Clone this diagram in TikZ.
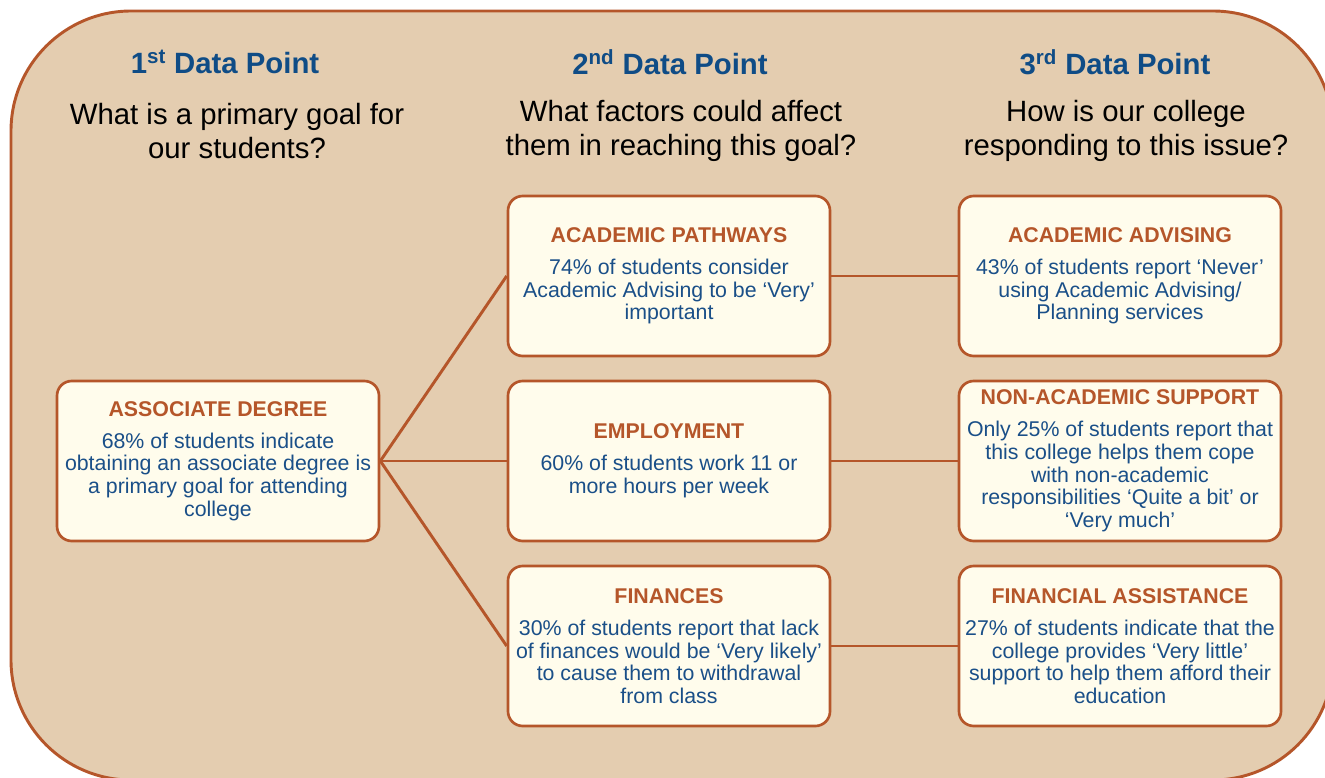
\documentclass[tikz,border=0pt]{standalone}
\usepackage{fontspec}
\setmainfont{Liberation Sans}
\definecolor{sienna}{HTML}{B5562A}
\definecolor{bgtan}{HTML}{E4CDB0}
\definecolor{cardfill}{HTML}{FFFCEC}
\definecolor{headblue}{HTML}{0F4C86}
\definecolor{bodyblue}{HTML}{1A4F88}
\begin{document}
\begin{tikzpicture}[x=0.75pt,y=-0.75pt,
  panel/.style={draw=sienna, line width=2.2pt, fill=bgtan, rounded corners=90pt},
  card/.style={rectangle, rounded corners=11pt, draw=sienna, line width=2pt,
    fill=cardfill, minimum width=241.5pt, minimum height=120pt, inner sep=0pt,
    align=center, text=bodyblue, font=\fontsize{16}{17}\selectfont},
  heading/.style={text=headblue, font=\fontsize{22}{26}\selectfont\bfseries},
  question/.style={align=center, text=black, font=\fontsize{22}{25.5}\selectfont},
  link/.style={draw=sienna, line width=2.2pt}]
\newcommand{\cardtitle}[1]{\textcolor{sienna}{\bfseries #1}\\[7pt]}

\useasboundingbox (0,0) rectangle (1325,778);
\begin{scope}
  \clip (0,0) rectangle (1325,778);
  \draw[panel] (11,11) rectangle (1333,780);
\end{scope}

% column headings
\node[heading] (h1) at (225,62) {1\textsuperscript{st} Data Point};
\node[heading] (h2) at (670,62) {2\textsuperscript{nd} Data Point};
\node[heading] (h3) at (1115,62) {3\textsuperscript{rd} Data Point};

\node[question] (q1) at (237,131) {What is a primary goal for\\our students?};
\node[question] (q2) at (681,131) {What factors could affect\\them in reaching this goal?};
\node[question] (q3) at (1126,131) {How is our college\\responding to this issue?};

% first column
\node[card] (degree) at (218,461) {\cardtitle{ASSOCIATE DEGREE}68\% of students indicate\\obtaining an associate degree is\\a primary goal for attending\\college};

% second column
\node[card] (pathways) at (669,276) {\cardtitle{ACADEMIC PATHWAYS}74\% of students consider\\Academic Advising to be ‘Very’\\important};
\node[card] (employ) at (669,461) {\cardtitle{EMPLOYMENT}60\% of students work 11 or\\more hours per week};
\node[card] (finances) at (669,646) {\cardtitle{FINANCES}30\% of students report that lack\\of finances would be ‘Very likely’\\to cause them to withdrawal\\from class};

% third column
\node[card] (advising) at (1120,276) {\cardtitle{ACADEMIC ADVISING}43\% of students report ‘Never’\\using Academic Advising/\\Planning services};
\node[card] (support) at (1120,461) {\cardtitle{NON-ACADEMIC SUPPORT}Only 25\% of students report that\\this college helps them cope\\with non-academic\\responsibilities ‘Quite a bit’ or\\‘Very much’};
\node[card] (assist) at (1120,646) {\cardtitle{FINANCIAL ASSISTANCE}27\% of students indicate that the\\college provides ‘Very little’\\support to help them afford their\\education};

% connectors
\draw[link] (degree.east) -- (pathways.west);
\draw[link] (degree.east) -- (employ.west);
\draw[link] (degree.east) -- (finances.west);
\draw[link] (pathways.east) -- (advising.west);
\draw[link] (employ.east) -- (support.west);
\draw[link] (finances.east) -- (assist.west);
\end{tikzpicture}
\end{document}
